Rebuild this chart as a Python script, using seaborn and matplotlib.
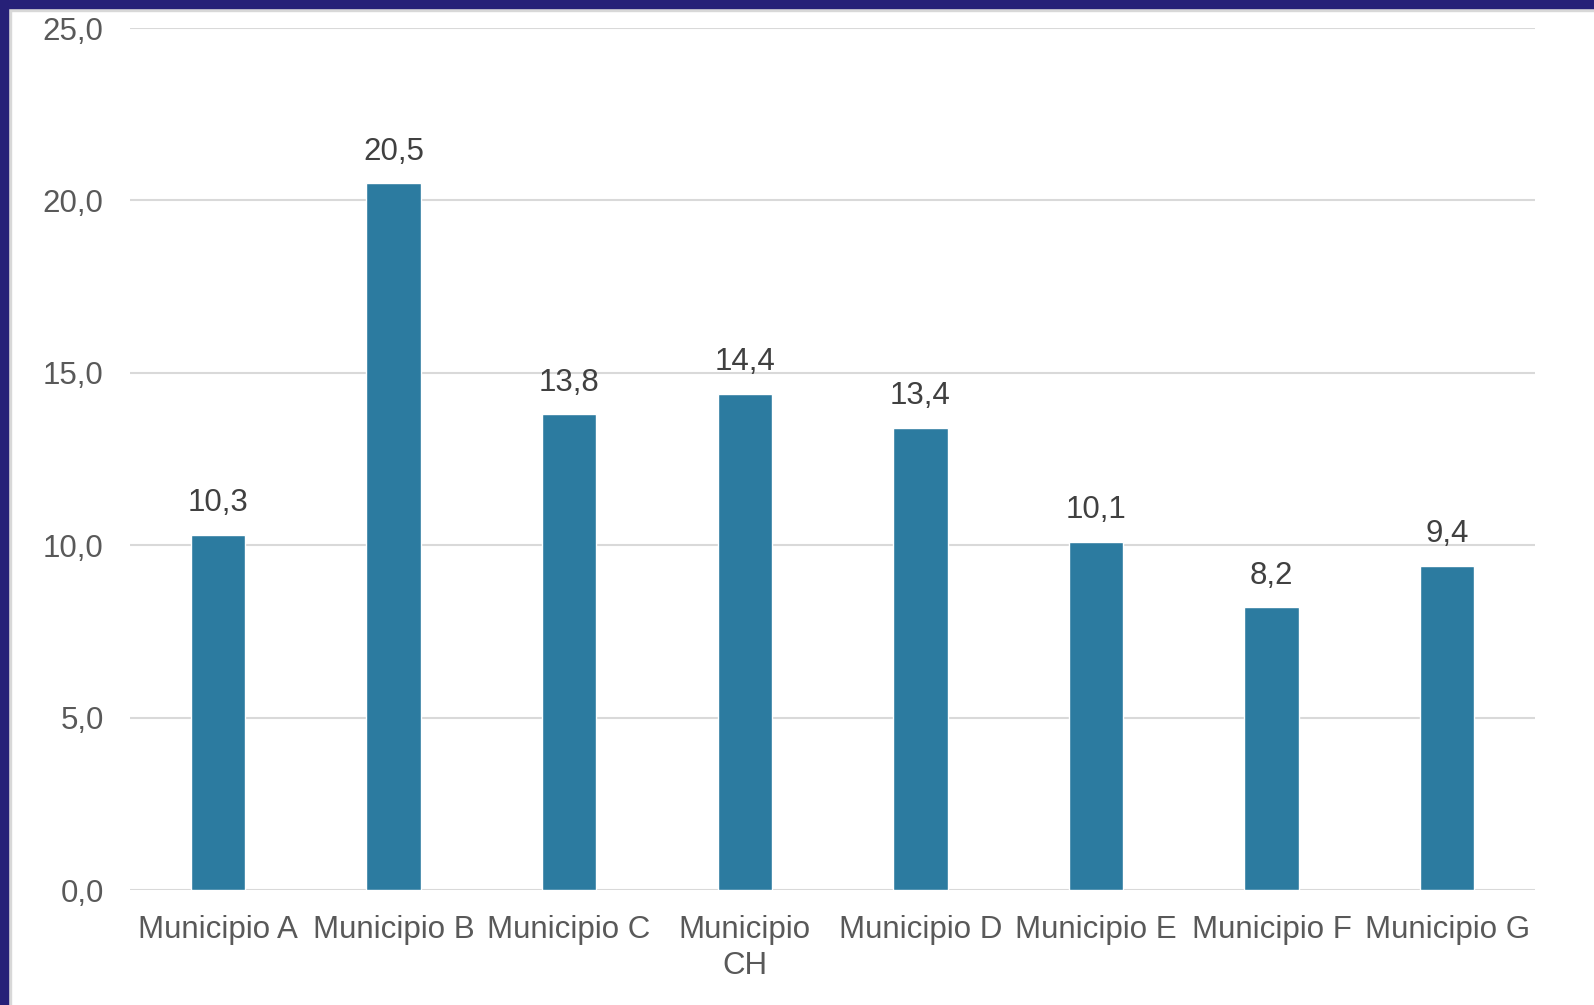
import numpy as np
import pandas as pd
import matplotlib.pyplot as plt
import seaborn as sns
from matplotlib.patches import Rectangle

municipios = ['Municipio A', 'Municipio B', 'Municipio C', 'Municipio\nCH',
              'Municipio D', 'Municipio E', 'Municipio F', 'Municipio G']
valores = [10.3, 20.5, 13.8, 14.4, 13.4, 10.1, 8.2, 9.4]
y_ticks = [0, 5, 10, 15, 20, 25]

sns.set_theme(style='white')
plt.rcParams['font.family'] = ['Liberation Sans', 'DejaVu Sans']

df = pd.DataFrame({'municipio': municipios, 'valor': valores})

fig = plt.figure(figsize=(15.94, 10.05), dpi=100)
ax = fig.add_axes([0.0816, 0.1144, 0.8814, 0.8577])

sns.barplot(data=df, x='municipio', y='valor', color='#2C7BA0', saturation=1,
            width=0.31, ax=ax, zorder=3)

ax.set_ylim(0, 25)
ax.set_xlim(-0.5, len(municipios) - 0.5)
ax.set_yticks(y_ticks)
ax.set_yticklabels([f'{v:.1f}'.replace('.', ',') for v in y_ticks])
ax.yaxis.grid(True, color='#D9D9D9', linewidth=1.5, zorder=0)
ax.set_axisbelow(True)
for s in ['top', 'right', 'left', 'bottom']:
    ax.spines[s].set_visible(False)
ax.set_xlabel('')
ax.set_ylabel('')
ax.tick_params(axis='y', length=0, pad=19, labelsize=22.5, labelcolor='#595959')
ax.tick_params(axis='x', length=0, pad=18, labelsize=22.5, labelcolor='#595959')
for lbl in ax.get_xticklabels():
    lbl.set_linespacing(1.25)

for cont in ax.containers:
    ax.bar_label(cont, labels=[f'{v:.1f}'.replace('.', ',') for v in valores],
                 padding=12, fontsize=22.5, color='#404040')

# dark frame on top and left, with soft shadow
fig.patches.append(Rectangle((0, 1 - 8 / 1005), 1, 8 / 1005, transform=fig.transFigure,
                             color='#262078', zorder=10))
fig.patches.append(Rectangle((0, 1 - 11 / 1005), 1, 3 / 1005, transform=fig.transFigure,
                             color='#D8D8D8', zorder=9))
fig.patches.append(Rectangle((0, 0), 8 / 1594, 1, transform=fig.transFigure,
                             color='#262078', zorder=10))
fig.patches.append(Rectangle((8 / 1594, 0), 3 / 1594, 1, transform=fig.transFigure,
                             color='#D8D8D8', zorder=9))

fig.savefig('out.png', dpi=100)
